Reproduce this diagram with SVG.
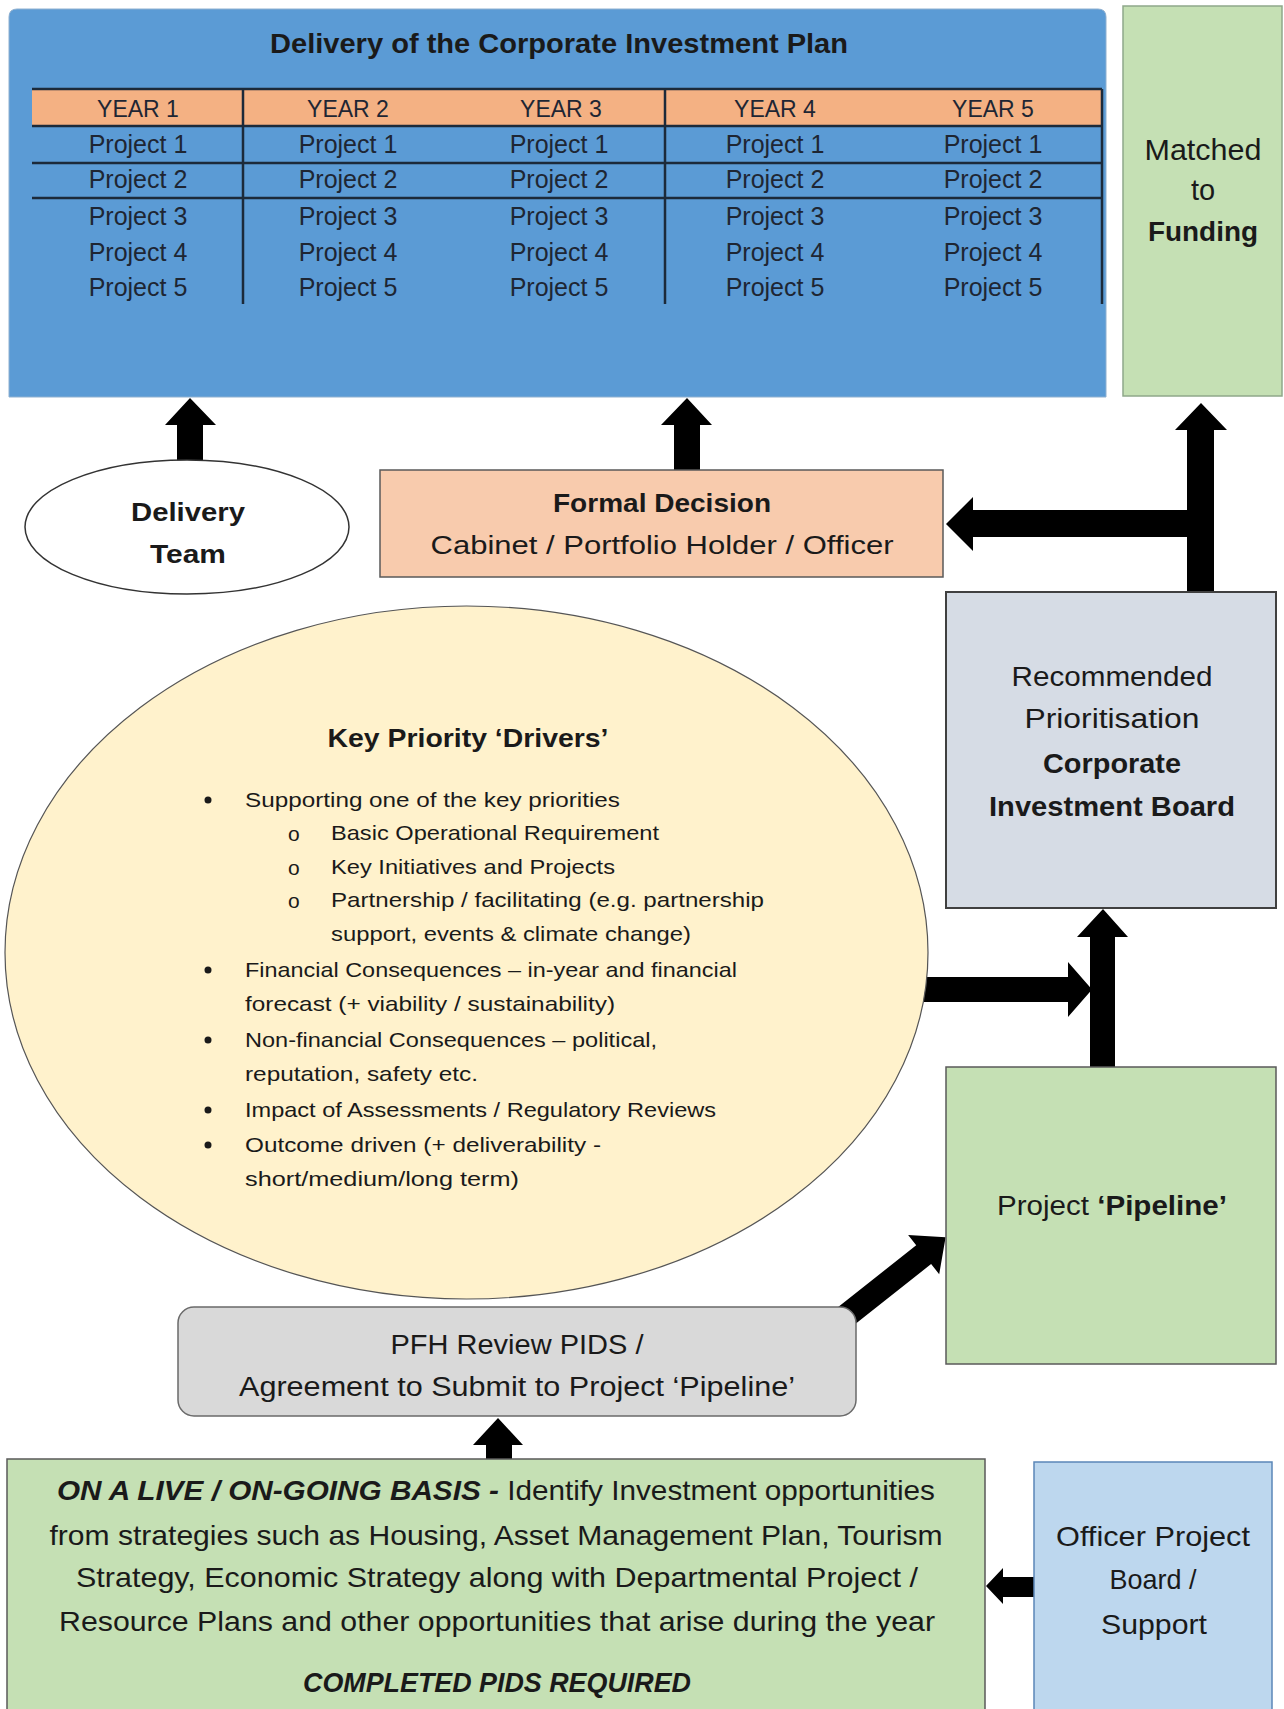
<svg xmlns="http://www.w3.org/2000/svg" width="1284" height="1709" viewBox="0 0 1284 1709">
<style>
.t{font-family:"Liberation Sans",Arial,sans-serif;fill:#1a1a1a}
.c{text-anchor:middle}
.b{font-weight:bold}
.bi{font-weight:bold;font-style:italic}
.tbl{font-family:"Liberation Sans",Arial,sans-serif;fill:#1e2633;text-anchor:middle}
.grid{stroke:#1c2a3a;stroke-width:2.5;fill:none}
.box{stroke:#5a5a5a;stroke-width:1.5}
.arr{fill:#000}
</style>
<rect width="1284" height="1709" fill="#fff"/>
<g id="connectors">
  <polygon class="arr" points="177,461 177,425 165,425 190,398 216,425 203,425 203,461"/>
  <polygon class="arr" points="674,472 674,425 661,425 687,398 712,425 700,425 700,472"/>
  <polygon class="arr" points="1187,593 1187,537 973,537 973,551 946,524 973,497 973,510 1187,510 1187,430 1175,430 1201,403 1227,430 1214,430 1214,593"/>
  <polygon class="arr" points="920,977 1068,977 1068,962 1092,989.5 1068,1017 1068,1002 920,1002"/>
  <polygon class="arr" points="1090,1068 1090,937 1077,937 1103,909 1128,937 1115,937 1115,1068"/>
  <polygon class="arr" transform="translate(850,1313) rotate(-38.4)" points="-8,-12 94,-12 94,-25 122,0 94,25 94,12 -8,12"/>
  <polygon class="arr" points="486,1460 486,1445 473,1445 498,1418 523,1445 512,1445 512,1460"/>
  <polygon class="arr" points="1035,1577 1003,1577 1003,1568 986,1586 1003,1604 1003,1597 1035,1597"/>
</g>
<g id="plan">
  <path d="M9,397 V17 Q9,9 17,9 H1098 Q1106,9 1106,17 V397 Z" fill="#5B9BD5" stroke="#8fb0d0" stroke-width="1"/>
  <text class="t b c" x="559" y="53" font-size="27" textLength="578" lengthAdjust="spacingAndGlyphs">Delivery of the Corporate Investment Plan</text>
  <rect x="32" y="89" width="1070" height="37" fill="#F4B183"/>
  <path class="grid" d="M32,89 H1102 M32,126 H1102 M32,163 H1102 M32,198 H1102 M243,89 V304 M665,89 V304 M1102,89 V304"/>
  <g class="tbl" font-size="23">
    <text x="138" y="117">YEAR 1</text>
    <text x="348" y="117">YEAR 2</text>
    <text x="561" y="117">YEAR 3</text>
    <text x="775" y="117">YEAR 4</text>
    <text x="993" y="117">YEAR 5</text>
  </g>
  <g class="tbl" font-size="25">
    <text x="138" y="153">Project 1</text><text x="348" y="153">Project 1</text><text x="559" y="153">Project 1</text><text x="775" y="153">Project 1</text><text x="993" y="153">Project 1</text>
    <text x="138" y="188">Project 2</text><text x="348" y="188">Project 2</text><text x="559" y="188">Project 2</text><text x="775" y="188">Project 2</text><text x="993" y="188">Project 2</text>
    <text x="138" y="225">Project 3</text><text x="348" y="225">Project 3</text><text x="559" y="225">Project 3</text><text x="775" y="225">Project 3</text><text x="993" y="225">Project 3</text>
    <text x="138" y="261">Project 4</text><text x="348" y="261">Project 4</text><text x="559" y="261">Project 4</text><text x="775" y="261">Project 4</text><text x="993" y="261">Project 4</text>
    <text x="138" y="296">Project 5</text><text x="348" y="296">Project 5</text><text x="559" y="296">Project 5</text><text x="775" y="296">Project 5</text><text x="993" y="296">Project 5</text>
  </g>
</g>
<g id="funding">
  <rect x="1123" y="6" width="159" height="390" fill="#C5E0B4" stroke="#8fa88a" stroke-width="1.5"/>
  <text class="t c" x="1203" y="160" font-size="29" textLength="117" lengthAdjust="spacingAndGlyphs">Matched</text>
  <text class="t c" x="1203" y="200" font-size="29">to</text>
  <text class="t b c" x="1203" y="241" font-size="28" textLength="110" lengthAdjust="spacingAndGlyphs">Funding</text>
</g>
<g id="delivery-team">
  <ellipse cx="187" cy="527" rx="162" ry="67" fill="#fff" stroke="#333" stroke-width="1.5"/>
  <text class="t b c" x="188" y="521" font-size="26" textLength="114" lengthAdjust="spacingAndGlyphs">Delivery</text>
  <text class="t b c" x="188" y="563" font-size="26" textLength="76" lengthAdjust="spacingAndGlyphs">Team</text>
</g>
<g id="formal-decision">
  <rect class="box" x="380" y="470" width="563" height="107" fill="#F8CBAD"/>
  <text class="t b c" x="662" y="512" font-size="26" textLength="218" lengthAdjust="spacingAndGlyphs">Formal Decision</text>
  <text class="t c" x="662" y="554" font-size="26" textLength="463" lengthAdjust="spacingAndGlyphs">Cabinet / Portfolio Holder / Officer</text>
</g>
<g id="investment-board">
  <rect x="946" y="592" width="330" height="316" fill="#D6DCE5" stroke="#404040" stroke-width="2"/>
  <text class="t c" x="1112" y="686" font-size="27" textLength="201" lengthAdjust="spacingAndGlyphs">Recommended</text>
  <text class="t c" x="1112" y="728" font-size="27" textLength="175" lengthAdjust="spacingAndGlyphs">Prioritisation</text>
  <text class="t b c" x="1112" y="773" font-size="27" textLength="138" lengthAdjust="spacingAndGlyphs">Corporate</text>
  <text class="t b c" x="1112" y="816" font-size="27" textLength="246" lengthAdjust="spacingAndGlyphs">Investment Board</text>
</g>
<g id="key-drivers">
  <ellipse cx="466.5" cy="952.5" rx="461.5" ry="346.5" fill="#FFF2CC" stroke="#555" stroke-width="1.2"/>
  <text class="t b c" x="468" y="747" font-size="25" textLength="281" lengthAdjust="spacingAndGlyphs">Key Priority ‘Drivers’</text>
  <g class="t" font-size="21">
    <circle cx="208" cy="800" r="3.5" fill="#1a1a1a"/>
    <text x="245" y="807" textLength="375" lengthAdjust="spacingAndGlyphs">Supporting one of the key priorities</text>
    <text x="288" y="841">o</text>
    <text x="331" y="840" textLength="328" lengthAdjust="spacingAndGlyphs">Basic Operational Requirement</text>
    <text x="288" y="875">o</text>
    <text x="331" y="874" textLength="284" lengthAdjust="spacingAndGlyphs">Key Initiatives and Projects</text>
    <text x="288" y="908">o</text>
    <text x="331" y="907" textLength="433" lengthAdjust="spacingAndGlyphs">Partnership / facilitating (e.g. partnership</text>
    <text x="331" y="941" textLength="360" lengthAdjust="spacingAndGlyphs">support, events &amp; climate change)</text>
    <circle cx="208" cy="970" r="3.5" fill="#1a1a1a"/>
    <text x="245" y="977" textLength="492" lengthAdjust="spacingAndGlyphs">Financial Consequences – in-year and financial</text>
    <text x="245" y="1011" textLength="370" lengthAdjust="spacingAndGlyphs">forecast (+ viability / sustainability)</text>
    <circle cx="208" cy="1040" r="3.5" fill="#1a1a1a"/>
    <text x="245" y="1047" textLength="412" lengthAdjust="spacingAndGlyphs">Non-financial Consequences – political,</text>
    <text x="245" y="1081" textLength="233" lengthAdjust="spacingAndGlyphs">reputation, safety etc.</text>
    <circle cx="208" cy="1110" r="3.5" fill="#1a1a1a"/>
    <text x="245" y="1117" textLength="471" lengthAdjust="spacingAndGlyphs">Impact of Assessments / Regulatory Reviews</text>
    <circle cx="208" cy="1145" r="3.5" fill="#1a1a1a"/>
    <text x="245" y="1152" textLength="356" lengthAdjust="spacingAndGlyphs">Outcome driven (+ deliverability -</text>
    <text x="245" y="1186" textLength="274" lengthAdjust="spacingAndGlyphs">short/medium/long term)</text>
  </g>
</g>
<g id="pipeline">
  <rect class="box" x="946" y="1067" width="330" height="297" fill="#C5E0B4"/>
  <text class="t c" x="1112" y="1215" font-size="27" textLength="230" lengthAdjust="spacingAndGlyphs">Project <tspan class="b">‘Pipeline’</tspan></text>
</g>
<g id="pfh-review">
  <rect x="178" y="1307" width="678" height="109" rx="16" fill="#D9D9D9" stroke="#6a6a6a" stroke-width="1.5"/>
  <text class="t c" x="517" y="1354" font-size="27" textLength="253" lengthAdjust="spacingAndGlyphs">PFH Review PIDS  /</text>
  <text class="t c" x="517" y="1396" font-size="27" textLength="556" lengthAdjust="spacingAndGlyphs">Agreement to Submit to Project ‘Pipeline’</text>
</g>
<g id="opportunities">
  <rect class="box" x="7" y="1459" width="978" height="260" fill="#C5E0B4"/>
  <text class="t c" x="496" y="1500" font-size="28" textLength="878" lengthAdjust="spacingAndGlyphs"><tspan class="bi">ON A LIVE / ON-GOING BASIS - </tspan>Identify Investment opportunities</text>
  <text class="t c" x="496" y="1545" font-size="28" textLength="893" lengthAdjust="spacingAndGlyphs">from strategies such as Housing, Asset Management Plan, Tourism</text>
  <text class="t c" x="497" y="1587" font-size="28" textLength="842" lengthAdjust="spacingAndGlyphs">Strategy, Economic Strategy along with Departmental Project /</text>
  <text class="t c" x="497" y="1631" font-size="28" textLength="876" lengthAdjust="spacingAndGlyphs">Resource Plans and other opportunities that arise during the year</text>
  <text class="t bi c" x="497" y="1692" font-size="28" textLength="388" lengthAdjust="spacingAndGlyphs">COMPLETED PIDS REQUIRED</text>
</g>
<g id="officer-board">
  <rect x="1034" y="1462" width="238" height="260" fill="#BDD7EE" stroke="#5b87b8" stroke-width="1.5"/>
  <text class="t c" x="1153" y="1546" font-size="28" textLength="194" lengthAdjust="spacingAndGlyphs">Officer Project</text>
  <text class="t c" x="1153" y="1589" font-size="28" textLength="87" lengthAdjust="spacingAndGlyphs">Board /</text>
  <text class="t c" x="1154" y="1634" font-size="28" textLength="106" lengthAdjust="spacingAndGlyphs">Support</text>
</g>
</svg>
